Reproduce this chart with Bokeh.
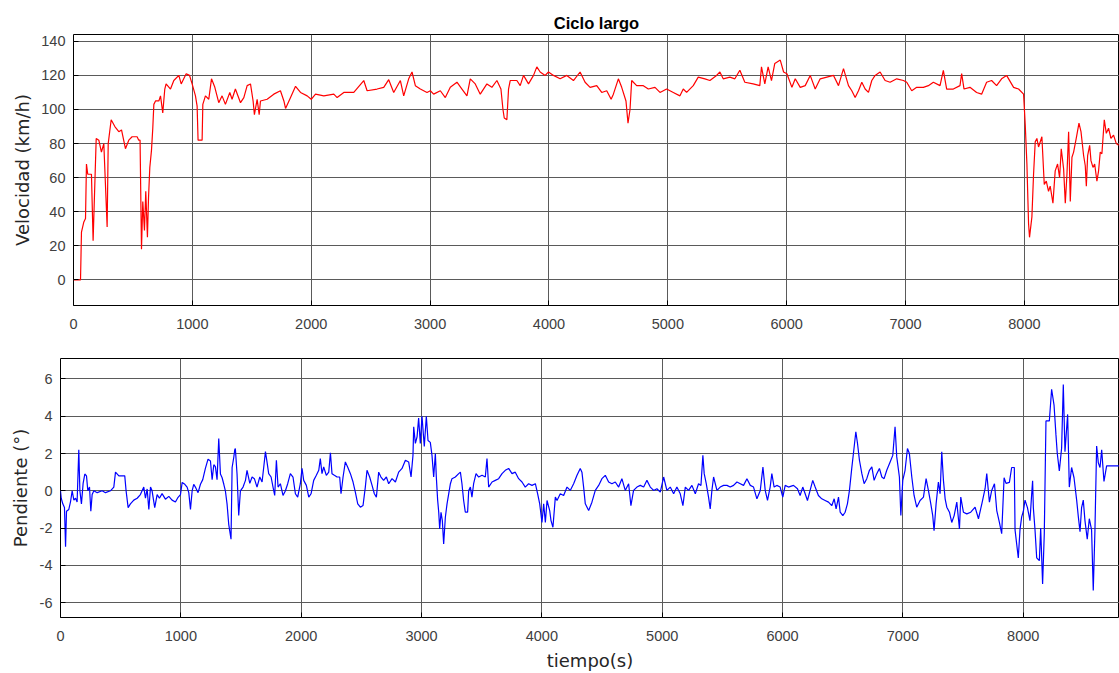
from bokeh.plotting import figure
from bokeh.layouts import column, row
from bokeh.models import FixedTicker, Range1d, CustomJSTickFormatter
from bokeh.embed import file_html
from bokeh.resources import INLINE

# ---- data ----
vel_t = [0, 59, 67, 87, 101, 109, 120, 151, 165, 191, 213, 235, 255, 283, 292, 317, 348, 381, 404, 437,
         465, 493, 535, 549, 560, 572, 583, 597, 608, 622, 631, 642, 656, 667, 676, 690, 718, 732, 751, 768,
         779, 816, 844, 886, 906, 948, 976, 998, 1026, 1040, 1048, 1082, 1088, 1110, 1138, 1161, 1189, 1222,
         1250, 1278, 1315, 1334, 1362, 1405, 1433, 1461, 1489, 1511, 1522, 1545, 1562, 1573, 1629, 1685, 1741,
         1770, 1784, 1826, 1868, 1910, 1966, 2000, 2036, 2106, 2190, 2218, 2274, 2358, 2442, 2470, 2554, 2610,
         2652, 2694, 2750, 2778, 2820, 2848, 2876, 2918, 2974, 3002, 3030, 3086, 3128, 3170, 3226, 3268, 3310,
         3338, 3380, 3422, 3478, 3520, 3562, 3596, 3613, 3624, 3646, 3660, 3674, 3730, 3758, 3786, 3828, 3870,
         3898, 3926, 3968, 3996, 4038, 4094, 4150, 4206, 4262, 4304, 4346, 4402, 4444, 4486, 4523, 4542, 4584,
         4612, 4648, 4665, 4682, 4696, 4738, 4794, 4836, 4892, 4934, 4990, 5046, 5102, 5130, 5158, 5214, 5256,
         5312, 5354, 5410, 5438, 5466, 5522, 5564, 5606, 5648, 5718, 5774, 5788, 5816, 5844, 5872, 5900, 5946,
         5974, 6002, 6044, 6072, 6114, 6156, 6198, 6240, 6282, 6338, 6394, 6436, 6478, 6520, 6548, 6576, 6604,
         6632, 6660, 6688, 6716, 6744, 6786, 6828, 6870, 6926, 6982, 7010, 7052, 7094, 7150, 7192, 7234, 7290,
         7318, 7346, 7402, 7458, 7472, 7492, 7542, 7598, 7640, 7682, 7724, 7766, 7808, 7850, 7909, 7951, 7993,
         8007, 8021, 8035, 8043, 8063, 8077, 8091, 8105, 8119, 8147, 8167, 8184, 8203, 8217, 8240, 8259, 8279,
         8296, 8310, 8330, 8344, 8358, 8372, 8386, 8400, 8414, 8436, 8459, 8476, 8498, 8512, 8521, 8532, 8549,
         8560, 8577, 8591, 8610, 8624, 8638, 8652, 8672, 8689, 8708, 8728, 8750, 8773, 8793]
vel_v = [0, 0, 28, 34, 36, 68, 62, 62, 23, 83, 82, 75, 80, 31, 80, 94, 90, 87, 88, 77,
         82, 84, 84, 82, 82, 18, 46, 29, 52, 25, 48, 66, 76, 89, 103, 105, 105, 108, 98, 112,
         115, 112, 117, 120, 115, 121, 120, 115, 108, 102, 82, 82, 103, 108, 106, 118, 113, 104,
         108, 103, 110, 106, 112, 104, 107, 114, 115, 105, 97, 106, 97, 105, 106, 109, 111,
         105, 100.6, 107, 113.6, 110, 108, 106, 109, 108, 109, 107, 110, 110, 117, 111, 112, 113,
         117.5, 110, 117, 108, 118, 122, 114, 112, 110, 111, 109, 111, 107, 113, 116, 112, 108,
         118, 115, 109, 115, 113, 117, 112, 100, 95, 94, 112, 117, 117, 114, 120, 115, 120,
         125, 122, 120, 122, 120, 118, 120, 117, 122, 116, 113, 114, 110, 111, 106, 109, 118,
         113, 105, 92, 100, 117, 114, 114, 112, 113, 110, 112, 110, 108, 112, 110, 114, 119,
         118, 117, 120, 122, 118, 119, 118, 123, 116, 115, 114, 125, 115, 125, 117, 127, 129,
         122, 121, 113, 118, 113, 114, 120, 112, 118, 119, 120, 114, 124, 114, 111, 107, 111,
         116, 112, 110, 117, 120, 122, 117, 116, 118, 117, 116, 111, 113, 113, 114, 116, 114,
         123, 112, 112, 114, 121, 112, 113, 110, 109, 116, 117, 114, 118, 120, 113, 112, 109,
         91, 68, 33, 25, 37, 62, 81, 83, 78, 84, 56, 58, 52, 55, 45, 64, 68,
         60, 77, 65, 45, 62, 87, 46, 72, 75, 83, 92, 87, 73, 67, 55, 73, 79,
         70, 66, 68, 58, 64, 75, 74, 94, 86, 89, 83, 85, 80, 79]

pend_t = [0, 6, 19, 33, 42, 50, 69, 83, 97, 111, 125, 138, 152, 161, 174, 188, 202, 216, 227, 241,
          252, 263, 277, 305, 346, 374, 415, 443, 457, 485, 534, 545, 562, 581, 609, 637, 664, 692, 706, 720,
          734, 748, 761, 783, 803, 822, 844, 872, 900, 927, 955, 977, 997, 1011, 1033, 1052, 1066, 1080, 1094,
          1107, 1121, 1143, 1163, 1182, 1204, 1226, 1246, 1260, 1274, 1287, 1301, 1315, 1329, 1343, 1357, 1370,
          1384, 1398, 1417, 1426, 1440, 1448, 1453, 1467, 1481, 1495, 1517, 1537, 1550, 1573, 1592, 1611, 1633,
          1656, 1675, 1689, 1703, 1716, 1730, 1750, 1766, 1780, 1794, 1808, 1827, 1849, 1869, 1888, 1910, 1932,
          1952, 1971, 1993, 2007, 2021, 2043, 2063, 2082, 2104, 2126, 2146, 2159, 2173, 2187, 2209, 2229, 2243,
          2256, 2276, 2298, 2320, 2331, 2348, 2367, 2386, 2409, 2431, 2450, 2470, 2492, 2514, 2533, 2547, 2569,
          2589, 2608, 2625, 2644, 2663, 2685, 2708, 2727, 2755, 2783, 2810, 2838, 2866, 2893, 2913, 2929, 2935,
          2949, 2963, 2976, 2990, 3004, 3023, 3040, 3054, 3073, 3087, 3101, 3115, 3123, 3134, 3143, 3151, 3162,
          3173, 3184, 3198, 3212, 3240, 3253, 3281, 3309, 3323, 3336, 3350, 3364, 3383, 3392, 3406, 3419, 3433,
          3453, 3475, 3503, 3530, 3544, 3558, 3586, 3613, 3641, 3669, 3696, 3724, 3752, 3779, 3807, 3835, 3862,
          3890, 3918, 3946, 3965, 3982, 4001, 4015, 4029, 4043, 4065, 4076, 4092, 4112, 4126, 4153, 4181, 4209,
          4236, 4264, 4292, 4319, 4333, 4347, 4361, 4389, 4416, 4444, 4472, 4499, 4527, 4555, 4582, 4610, 4638,
          4665, 4693, 4721, 4740, 4762, 4790, 4818, 4846, 4873, 4901, 4929, 4956, 4984, 5012, 5039, 5067, 5095,
          5122, 5150, 5172, 5192, 5219, 5247, 5275, 5302, 5322, 5338, 5349, 5366, 5385, 5399, 5413, 5427, 5455,
          5482, 5510, 5538, 5565, 5593, 5621, 5649, 5676, 5704, 5732, 5759, 5787, 5815, 5837, 5856, 5875, 5897,
          5911, 5930, 5952, 5980, 6002, 6022, 6049, 6091, 6124, 6146, 6168, 6188, 6207, 6229, 6251, 6271, 6298,
          6326, 6354, 6382, 6409, 6429, 6445, 6465, 6479, 6501, 6520, 6539, 6556, 6575, 6589, 6609, 6623, 6639,
          6659, 6678, 6700, 6722, 6742, 6761, 6783, 6805, 6825, 6844, 6866, 6894, 6916, 6935, 6949, 6971, 6983,
          6999, 7018, 7038, 7054, 7074, 7093, 7115, 7143, 7171, 7193, 7212, 7232, 7248, 7259, 7276, 7295, 7309,
          7323, 7337, 7351, 7365, 7387, 7406, 7426, 7448, 7470, 7481, 7503, 7531, 7564, 7600, 7628, 7656, 7683,
          7697, 7719, 7738, 7761, 7780, 7802, 7821, 7841, 7857, 7885, 7904, 7926, 7932, 7959, 7973, 7987, 8001,
          8015, 8035, 8056, 8070, 8078, 8084, 8098, 8112, 8134, 8145, 8161, 8175, 8189, 8217, 8236, 8256, 8272,
          8283, 8300, 8319, 8333, 8347, 8369, 8383, 8402, 8422, 8444, 8458, 8472, 8485, 8499, 8513, 8532, 8549,
          8568, 8582, 8596, 8610, 8624, 8638, 8652, 8671, 8693, 8708, 8749, 8795]
pend_v = [0, -0.4, -0.7, -0.9, -3.0, -1.1, -1.0, -0.6, 0, -0.5, -0.4, -0.6, 2.2, 0, -0.7, 0.4, 0.9, 0.8, 0, 0.2,
          -1.1, -0.2, 0, -0.1, 0, -0.1, 0, 0.2, 1.0, 0.8, 0.8, 0, -0.9, -0.7, -0.5, -0.4, -0.2, 0.2, -0.4, 0.1,
          -1.0, 0.2, 0, -0.9, -0.2, -0.4, -0.15, -0.45, -0.3, -0.5, -0.6, -0.35, -0.2, 0.45, 0.35, 0.2, -0.1, -1.0, 0,
          0.35, 0.2, -0.1, 0.35, 0.6, 1.2, 1.7, 1.6, 0.6, 1.4, 1.3, 0.6, 2.8, 0.9, 0.7, 0.35, 0,
          -0.7, -1.8, -2.6, 1.25, 1.8, 2.2, 2.27, 0.9, -1.33, 0, 0.2, 0.56, 1.1, 0.4, 0.74, 0.65, 0.2,
          0.74, 0.47, 1.28, 2.1, 1.55, 0.92, 0.74, 0.2, -0.25, 1.64, 0.2, 0.38, -0.25, 0, 0.38, 0.92, 0.74,
          -0.16, -0.34, 0.38, 1.2, 0.56, 0.29, -0.34, -0.16, 0.56, 0.83, 1.1, 1.73, 0.92, 1.28, 0.83, 1.0, 2.04,
          0.92, 0.83, 0.74, 0.74, -0.16, 0.74, 1.55, 1.28, 0.92, 0.47, -0.07, -0.7, -0.88, -0.79, 0.2, 1.1, 0.74,
          0.29, -0.16, -0.34, 1.0, 0.74, 0.56, 0.74, 0.38, 0.65, 0.47, 1.0, 1.2, 1.64, 1.55, 0.74, 1.9, 3.44,
          2.54, 2.9, 3.9, 2.54, 4.0, 2.38, 4.0, 2.7, 2.6, 1.9, 0.74, 2.0, 0.74, -0.5, -1.15, -2.05, -1.15,
          -1.6, -2.86, -1.42, -0.7, 0.38, 0.65, 0.74, 0.92, 1.0, 0.38, -0.52, -1.15, -1.15, 0.02, 0.2, -0.34, 0.38,
          0.92, 0.74, 0.83, 0.74, 1.73, 0.2, 0.47, 0.56, 0.65, 0.92, 1.1, 1.2, 0.92, 1.0, 0.65, 0.47, 0.2,
          0.38, 0.29, 0.38, -0.16, -0.7, -1.7, -0.7, -1.7, -0.52, -1.06, -1.6, -1.96, -0.34, -0.52, -0.16, -0.25, 0.2,
          0.02, 0.38, 0.83, 1.2, 1.0, 0.2, -0.7, -1.06, -0.61, 0.02, 0.29, 0.65, 0.83, 0.47, 0.38, 0.47, 0.2,
          0.65, 0.02, 0.38, -0.8, 0.02, 0.2, 0.29, 0.2, 0.56, 0.2, 0.02, 0.11, -0.07, 0.74, 0.02, 0.2, -0.16,
          0.2, -0.16, -0.8, 0.2, 0.02, 0.29, -0.16, 0.38, 0.29, 1.9, 0.92, 0.38, -0.34, -0.97, 0.02, 0.74, 0.02,
          0.2, 0.29, 0.29, 0.2, 0.29, 0.47, 0.38, 0.29, 0.65, 0.29, 0.2, -0.43, 0.02, 1.28, 0.02, -0.52, 0.2,
          0.92, 0.2, 0.29, 0.2, -0.34, 0.29, 0.2, 0.29, 0.11, -0.25, 0.2, -0.16, -0.52, 0.02, 0.56, 0.2, -0.25,
          -0.43, -0.52, -0.61, -0.8, -0.43, -0.97, -0.34, -1.15, -1.33, -1.15, -0.7, 0.02, 1.2, 2.0, 3.17, 2.54, 1.64,
          0.92, 0.38, 0.65, 1.1, 1.28, 0.56, 0.92, 1.2, 0.74, 0.65, 1.1, 1.55, 1.9, 3.44, 1.82, 0.74, -1.33,
          0.56, 1.1, 2.27, 2.0, 0.74, -0.25, -0.88, -0.52, -0.34, 0.65, 0.02, -0.7, -1.33, -2.14, -0.7, 0.47, -0.16,
          2.1, 0.56, -0.43, -0.88, -1.15, -1.7, -1.33, -0.61, -2.05, -0.34, -1.15, -1.24, -1.15, -0.88, -1.5, -0.7, 0.11,
          0.92, -0.61, 0.02, 0.38, -1.06, -1.7, -2.3, 0.7, 0.4, 0.45, 1.25, 1.25, -2.1, -3.6, -2.1, -1.4, -1.1,
          -0.5, -0.9, -1.6, -0.2, 0.54, -0.9, -2.1, -3.6, -3.75, -2.0, -5.0, -2.3, 3.75, 3.75, 5.45, 4.6, 3.0,
          2.0, 1.07, 2.3, 5.7, 2.1, 4.1, 0.2, 1.25, 0.7, -0.5, -1.4, -2.2, -0.9, -0.5, -1.6, -2.6, -1.5,
          -2.1, -5.35, -2.1, 2.4, 1.5, 1.25, 2.2, 0.5, 1.34, 1.34, 1.34, 1.34]

x_ticks = [0, 1000, 2000, 3000, 4000, 5000, 6000, 7000, 8000]
vel_ticks = [0, 20, 40, 60, 80, 100, 120, 140]
pend_ticks = [-6, -4, -2, 0, 2, 4, 6]

TICK_FONT = "Liberation Sans"
LABEL_FONT = "DejaVu Sans"


def style(p, yticks, ylabel, xlabel=None, ylab_standoff=9):
    p.background_fill_color = "white"
    p.border_fill_color = "white"
    p.outline_line_color = "black"
    p.outline_line_width = 1
    for ax in (p.xaxis[0], p.yaxis[0]):
        ax.axis_line_color = None
        ax.major_tick_in = 5
        ax.major_tick_out = 0
        ax.minor_tick_line_color = None
        ax.major_tick_line_color = "black"
        ax.major_label_text_font = TICK_FONT
        ax.major_label_text_font_size = "14.5px"
        ax.major_label_text_color = "#404040"
        ax.axis_label_text_font = LABEL_FONT
        ax.axis_label_text_font_size = "18px"
        ax.axis_label_text_font_style = "normal"
        ax.axis_label_text_color = "#262626"
        ax.formatter = CustomJSTickFormatter(code="return String(tick);")
    p.xaxis[0].ticker = FixedTicker(ticks=x_ticks)
    p.yaxis[0].ticker = FixedTicker(ticks=yticks)
    p.xaxis[0].major_label_standoff = 13
    p.yaxis[0].major_label_standoff = 8
    p.yaxis[0].axis_label = ylabel
    p.yaxis[0].axis_label_standoff = ylab_standoff
    if xlabel:
        p.xaxis[0].axis_label = xlabel
        p.xaxis[0].axis_label_standoff = 6
    for g in (p.xgrid[0], p.ygrid[0]):
        g.grid_line_color = "#5a5a5a"
        g.grid_line_width = 1
    p.xgrid[0].ticker = FixedTicker(ticks=x_ticks)
    p.ygrid[0].ticker = FixedTicker(ticks=yticks)


p1 = figure(frame_width=1046, frame_height=271, output_backend="svg", toolbar_location=None,
            x_range=Range1d(0, 8800), y_range=Range1d(-15, 144),
            min_border_left=73, min_border_right=0, min_border_top=34, min_border_bottom=35,
            title="Ciclo largo")
p1.title.align = "center"
p1.title.text_font = TICK_FONT
p1.title.text_font_size = "16.5px"
p1.title.text_font_style = "bold"
p1.title.text_color = "black"
p1.title.standoff = 5
style(p1, vel_ticks, "Velocidad (km/h)", ylab_standoff=5)
p1.line(vel_t, vel_v, line_color="#ff0000", line_width=1.2)

p2 = figure(frame_width=1059, frame_height=259, output_backend="svg", toolbar_location=None,
            x_range=Range1d(0, 8800), y_range=Range1d(-6.8, 7.1),
            min_border_left=60, min_border_right=0, min_border_top=18, min_border_bottom=56)
style(p2, pend_ticks, "Pendiente (°)", xlabel="tiempo(s)", ylab_standoff=6)
p2.line(pend_t, pend_v, line_color="#0000ff", line_width=1.2)

layout = column(row(p1), row(p2), spacing=0)
open("out.html", "w").write(file_html(layout, INLINE))
